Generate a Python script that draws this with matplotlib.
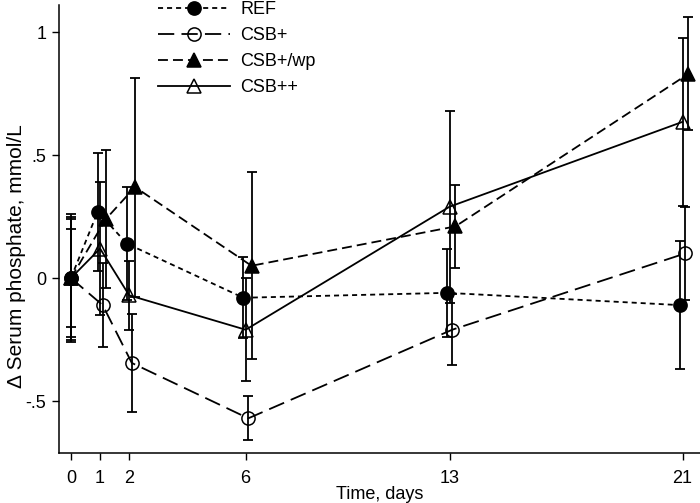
import numpy as np
import matplotlib
matplotlib.use("Agg")
import matplotlib.pyplot as plt
from matplotlib.ticker import FixedLocator, FixedFormatter

plt.rcParams["font.family"] = ["Liberation Sans", "DejaVu Sans"]

days = np.array([0, 1, 2, 6, 13, 21])

# mean change and half-width of the error bar
ref_mean = [0, 0.27, 0.14, -0.08, -0.06, -0.11]
ref_err = [0.25, 0.24, 0.23, 0.165, 0.18, 0.26]
csbp_mean = [0, -0.11, -0.345, -0.57, -0.21, 0.10]
csbp_err = [0.26, 0.17, 0.20, 0.09, 0.145, 0.19]
csbwp_mean = [0, 0.24, 0.37, 0.05, 0.21, 0.83]
csbwp_err = [0.20, 0.28, 0.445, 0.38, 0.17, 0.23]
csbpp_mean = [0, 0.12, -0.07, -0.21, 0.29, 0.635]
csbpp_err = [0.24, 0.27, 0.14, 0.21, 0.39, 0.34]

y_ticks = [-0.5, 0, 0.5, 1]
y_tick_labels = ["-.5", "0", ".5", "1"]

series = [
    ("REF", ref_mean, ref_err, -0.08, "o", "black", (0, (2.8, 2.2))),
    ("CSB+", csbp_mean, csbp_err, 0.09, "o", "none", (0, (9.0, 4.0))),
    ("CSB+/wp", csbwp_mean, csbwp_err, 0.2, "^", "black", (0, (5.5, 2.8))),
    ("CSB++", csbpp_mean, csbpp_err, 0.0, "^", "none", "-"),
]

fig = plt.figure(figsize=(7.0, 5.03), dpi=100)
ax = fig.add_axes([59 / 700, 50 / 503, 641 / 700, 448 / 503])

handles = []
for name, mean, err, shift, marker, face, ls in series:
    x = days + np.where(days == 0, 0.0, shift)
    ax.errorbar(x, mean, yerr=err, fmt="none", ecolor="black",
                elinewidth=1.3, capsize=3.5, capthick=1.3, zorder=2)
    (line,) = ax.plot(x, mean, color="black", lw=1.3, linestyle=ls,
                      marker=marker, markersize=9.5, markerfacecolor=face,
                      markeredgecolor="black", markeredgewidth=1.1,
                      label=name, zorder=3)
    handles.append(line)

ax.set_xlim(-0.41, 21.6)
ax.set_ylim(-0.711, 1.11)
ax.set_xticks(days)
ax.set_xticklabels([str(d) for d in days])
ax.yaxis.set_major_locator(FixedLocator(y_ticks))
ax.yaxis.set_major_formatter(FixedFormatter(y_tick_labels))
ax.tick_params(direction="out", length=5, width=1, labelsize=13)
ax.tick_params(axis="x", pad=7)
ax.tick_params(axis="y", pad=4)

for side in ["top", "right"]:
    ax.spines[side].set_visible(False)
for side in ["left", "bottom"]:
    ax.spines[side].set_linewidth(1.1)

ax.set_xlabel("Time, days", fontsize=13)
ax.xaxis.set_label_coords(0.5, -0.074)
ax.set_ylabel("\u0394 Serum phosphate, mmol/L", fontsize=15)
ax.yaxis.set_label_coords(-0.052, 0.44)

fig.legend(handles=handles, loc="upper left", bbox_to_anchor=(158 / 700, 0.998),
           frameon=False, fontsize=13, handlelength=4.0, handletextpad=0.55,
           labelspacing=0.5, borderpad=0, borderaxespad=0)

fig.savefig("out.png", dpi=100)
